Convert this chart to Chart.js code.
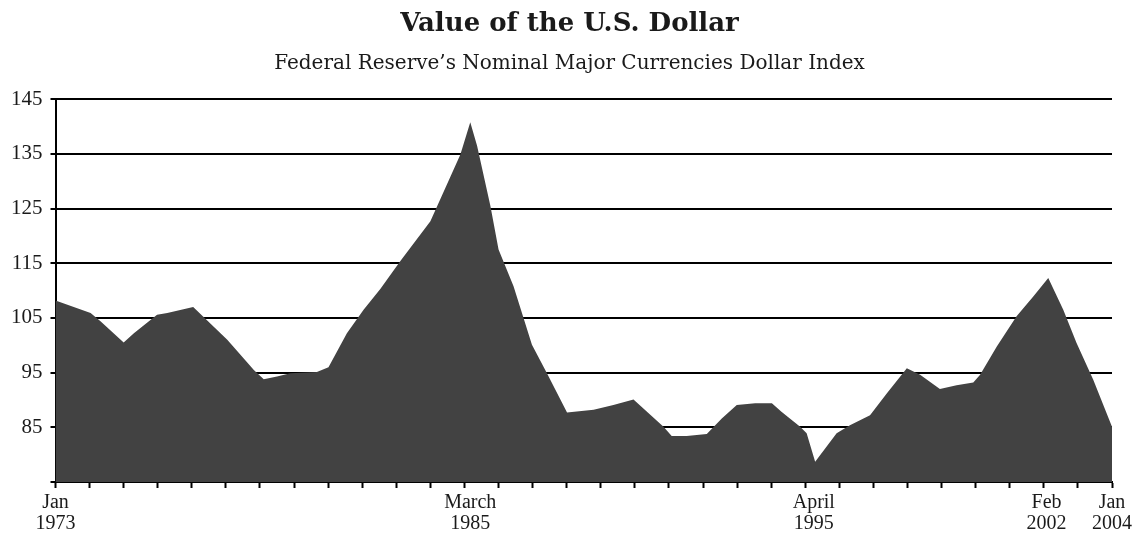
<!DOCTYPE html>
<html>
<head>
<meta charset="utf-8">
<title>Value of the U.S. Dollar</title>
<script src="https://cdn.jsdelivr.net/npm/chart.js@4.4.1/dist/chart.umd.min.js"></script>
<style>
  html, body { margin: 0; padding: 0; background: #fff; }
  #wrap { width: 1139px; height: 534px; }
</style>
</head>
<body>
<div id="wrap"><canvas id="dollarChart" width="1139" height="534"></canvas></div>
<script>
// Dates as decimal years
const dates = [
  1973.00, 1974.03, 1974.32, 1975.00, 1975.30, 1975.98, 1976.28, 1977.04,
  1978.04, 1978.82, 1979.11, 1979.50, 1979.89, 1980.67, 1981.01, 1981.55,
  1982.04, 1982.53, 1983.12, 1984.00, 1984.29, 1984.88, 1985.17, 1985.37,
  1985.76, 1986.00, 1986.44, 1986.98, 1987.42, 1988.01, 1988.79, 1989.37,
  1989.96, 1990.84, 1991.08, 1991.52, 1992.11, 1992.55, 1992.99, 1993.53,
  1994.02, 1994.31, 1994.85, 1995.04, 1995.29, 1995.92, 1996.31, 1996.90,
  1997.39, 1997.98, 1998.37, 1998.95, 1999.44, 1999.93, 2000.13, 2000.62,
  2001.20, 2001.69, 2002.13, 2002.57, 2002.96, 2003.45, 2004.00
];

// Nominal major currencies dollar index
const indexValues = [
  108.2, 105.9, 104.4, 100.5, 102.2, 105.6, 105.9, 107.0,
  101.0, 95.5, 93.8, 94.3, 94.9, 95.1, 96.0, 102.2,
  106.5, 110.3, 115.4, 122.7, 126.7, 134.9, 140.8, 136.5,
  125.5, 117.5, 110.8, 100.1, 94.9, 87.7, 88.2, 89.1,
  90.1, 85.1, 83.4, 83.4, 83.8, 86.6, 89.1, 89.4,
  89.4, 87.8, 85.1, 83.9, 78.7, 83.9, 85.4, 87.2,
  91.2, 95.8, 94.6, 92.0, 92.7, 93.2, 94.6, 99.8,
  105.3, 108.9, 112.3, 106.5, 100.4, 93.7, 85.1
];

// Labelled dates on the x axis
const xLabelDates = [1973, 1985.17, 1995.25, 2002.08, 2004];
const xLabelText = [['Jan', '1973'], ['March', '1985'], ['April', '1995'], ['Feb', '2002'], ['Jan', '2004']];

// Yearly tick marks
const tickYears = [];
for (let y = 1973; y <= 2004; y++) tickYears.push(y);

const yMin = 75;
const yMax = 145;
const yStep = 10;

const points = dates.map((d, i) => ({ x: d, y: indexValues[i] }));

function labelFor(value) {
  const i = xLabelDates.findIndex(d => Math.abs(d - value) < 0.001);
  return i >= 0 ? xLabelText[i] : '';
}

const ctx = document.getElementById('dollarChart').getContext('2d');

new Chart(ctx, {
  type: 'line',
  data: {
    datasets: [{
      data: points,
      fill: 'start',
      backgroundColor: '#424242',
      borderWidth: 0,
      pointRadius: 0,
      tension: 0
    }]
  },
  options: {
    responsive: false,
    animation: false,
    // equal side padding keeps the title centred on the canvas
    layout: { padding: { left: 3, right: 3, top: 2, bottom: -4 } },
    plugins: {
      legend: { display: false },
      tooltip: { enabled: false },
      title: {
        display: true,
        text: 'Value of the U.S. Dollar',
        color: '#1a1a1a',
        font: { family: "'DejaVu Serif'", size: 26, weight: 'bold' },
        padding: { top: 7, bottom: 6 }
      },
      subtitle: {
        display: true,
        text: 'Federal Reserve\u2019s Nominal Major Currencies Dollar Index',
        color: '#1a1a1a',
        font: { family: "'DejaVu Serif'", size: 20 },
        padding: { top: 6, bottom: 23 }
      }
    },
    scales: {
      x: {
        type: 'linear',
        min: 1973,
        max: 2004,
        afterBuildTicks: scale => {
          const all = new Set(tickYears.concat(xLabelDates));
          scale.ticks = Array.from(all).sort((a, b) => a - b).map(v => ({ value: v }));
        },
        ticks: {
          autoSkip: false,
          maxRotation: 0,
          color: '#1a1a1a',
          padding: 4,
          font: { family: "'Liberation Serif'", size: 20, lineHeight: 1.05 },
          callback: value => labelFor(value)
        },
        grid: {
          drawOnChartArea: false,
          drawTicks: true,
          tickLength: 6,
          tickWidth: 2,
          tickColor: c => (c.tick && tickYears.includes(c.tick.value)) ? '#000' : 'rgba(0,0,0,0)'
        },
        border: { display: true, color: '#000', width: 2 }
      },
      y: {
        min: yMin,
        max: yMax,
        ticks: {
          stepSize: yStep,
          color: '#1a1a1a',
          padding: 8,
          font: { family: "'Liberation Serif'", size: 21 },
          callback: value => value === yMin ? '' : value
        },
        grid: {
          color: '#000',
          lineWidth: 2,
          tickLength: 5,
          tickColor: '#000'
        },
        border: { display: true, color: '#000', width: 2 }
      },
      // empty right-hand axis, only reserves the margin on the right
      yRight: {
        position: 'right',
        afterFit: scale => { scale.width = 24; },
        ticks: { display: false },
        grid: { display: false },
        border: { display: false }
      }
    }
  }
});
</script>
</body>
</html>
